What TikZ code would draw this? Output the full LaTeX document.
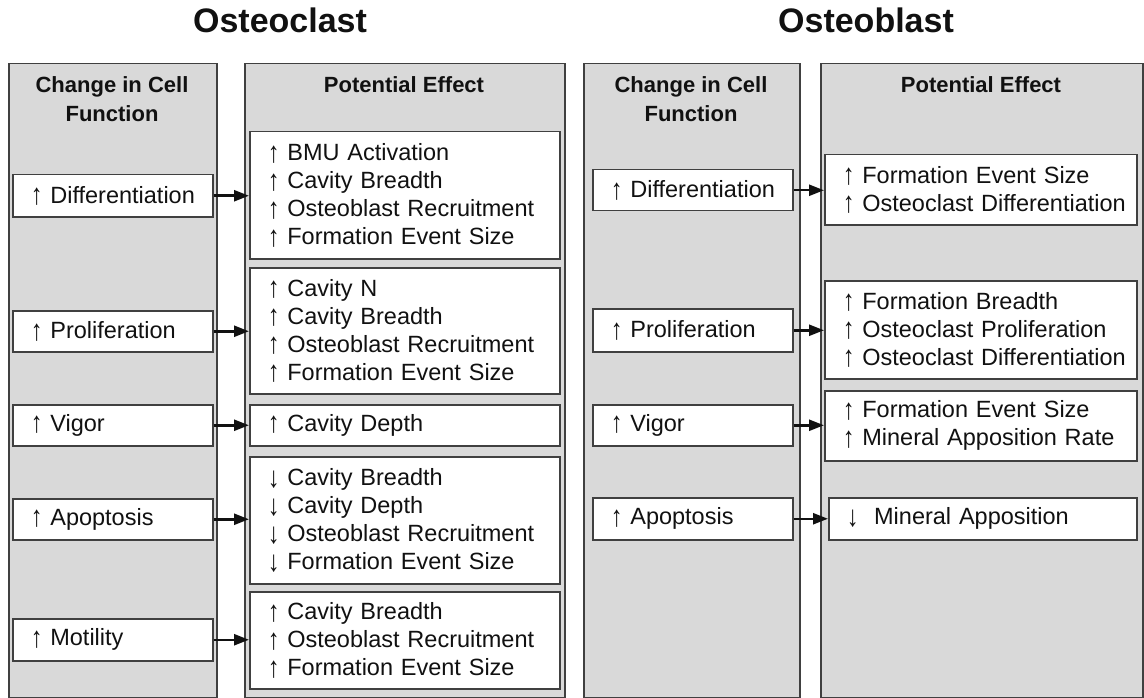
\documentclass[tikz,border=0pt]{standalone}
\usepackage{fontspec}
\usepackage{graphicx}
\setmainfont{Liberation Sans}
\usetikzlibrary{arrows.meta}
\definecolor{panelgray}{HTML}{D9D9D9}
\definecolor{edgegray}{HTML}{404040}
\definecolor{ink}{HTML}{111111}
\newcommand{\upa}{\mbox{\raisebox{-1.5pt}{\scalebox{1}[1.25]{↑}}}\nobreak\ }
\newcommand{\dna}{\mbox{\raisebox{-1.5pt}{\scalebox{1}[1.25]{↓}}}\nobreak\ }
\begin{document}
\begin{tikzpicture}[x=1pt,y=-1pt,
  panel/.style={draw=edgegray, fill=panelgray, line width=1.5pt, inner sep=0pt, anchor=north west},
  box/.style={draw=edgegray, fill=white, line width=1.5pt, anchor=north west, inner xsep=18pt, inner ysep=0pt,
    align=left, text=ink, font=\fontsize{23.5}{28}\selectfont,
    execute at begin node={\hyphenpenalty=10000\exhyphenpenalty=10000\hbadness=10000\hfuzz=200pt}},
  cbox/.style={box, minimum width=200pt, text width=164pt},
  ebox/.style={box, minimum width=310pt, text width=274pt},
  fbox/.style={box, minimum width=312pt, text width=276pt},
  head/.style={anchor=north, inner sep=0pt, align=center, text=ink, font=\bfseries\fontsize{22}{29}\selectfont},
  title/.style={anchor=base, inner sep=0pt, text=ink, font=\bfseries\fontsize{34}{38}\selectfont},
  arr/.style={draw=ink, line width=2.5pt, -{Triangle[length=15pt,width=11pt]}}]
\useasboundingbox (0,0) rectangle (1144,698);

% titles
\node[title] (t1) at (280,33) {Osteoclast};
\node[title] (t2) at (866,33) {Osteoblast};

% panels
\node[panel, minimum width=208pt, minimum height=634pt] (pA) at (8,63) {};
\node[panel, minimum width=320pt, minimum height=634pt] (pB) at (244,63) {};
\node[panel, minimum width=216pt, minimum height=634pt] (pC) at (583,63) {};
\node[panel, minimum width=322pt, minimum height=634pt] (pD) at (820,63) {};

% headers
\node[head] (hA) at (112,76) {Change in Cell\\Function};
\node[head] (hB) at (404,76) {Potential Effect};
\node[head] (hC) at (691,76) {Change in Cell\\Function};
\node[head] (hD) at (981,76) {Potential Effect};

% osteoclast change boxes
\node[cbox, minimum height=42pt] (cd1) at (12,174) {\upa Differentiation};
\node[cbox, minimum height=41pt] (cd2) at (12,310) {\upa Proliferation};
\node[cbox, minimum height=41pt] (cd3) at (12,404) {\upa Vigor};
\node[cbox, minimum height=41pt] (cd4) at (12,498) {\upa Apoptosis};
\node[cbox, minimum height=42pt] (cd5) at (12,618) {\upa Motility};

% osteoclast effect boxes
\node[ebox, minimum height=127pt] (ce1) at (249,131) {\upa BMU Activation\\\upa Cavity Breadth\\\upa Osteoblast~Recruitment\\\upa Formation Event Size};
\node[ebox, minimum height=126pt] (ce2) at (249,267) {\upa Cavity N\\\upa Cavity Breadth\\\upa Osteoblast~Recruitment\\\upa Formation Event Size};
\node[ebox, minimum height=41pt] (ce3) at (249,404) {\upa Cavity Depth};
\node[ebox, minimum height=127pt] (ce4) at (249,456) {\dna Cavity Breadth\\\dna Cavity Depth\\\dna Osteoblast~Recruitment\\\dna Formation Event Size};
\node[ebox, minimum height=97pt] (ce5) at (249,591) {\upa Cavity Breadth\\\upa Osteoblast~Recruitment\\\upa Formation Event Size};

% osteoblast change boxes
\node[cbox, minimum height=41pt] (bd1) at (592,169) {\upa Differentiation};
\node[cbox, minimum height=43pt] (bd2) at (592,308) {\upa Proliferation};
\node[cbox, minimum height=41pt] (bd3) at (592,404) {\upa Vigor};
\node[cbox, minimum height=42pt] (bd4) at (592,497) {\upa Apoptosis};

% osteoblast effect boxes
\node[fbox, minimum height=70pt] (be1) at (824,154) {\upa Formation Event Size\\\upa Osteoclast~Differentiation};
\node[fbox, minimum height=98pt] (be2) at (824,280) {\upa Formation Breadth\\\upa Osteoclast~Proliferation\\\upa Osteoclast~Differentiation};
\node[fbox, minimum height=70pt] (be3) at (824,390) {\upa Formation Event Size\\\upa Mineral~Apposition~Rate};
\node[box, minimum width=308pt, text width=272pt, minimum height=42pt] (be4) at (828,497) {\dna\ Mineral Apposition};

% connectors
\foreach \a/\b in {cd1/ce1, cd2/ce2, cd3/ce3, cd4/ce4, cd5/ce5, bd1/be1, bd2/be2, bd3/be3, bd4/be4}
  \draw[arr] (\a.east) -- (\a.east -| \b.west);
\end{tikzpicture}
\end{document}
